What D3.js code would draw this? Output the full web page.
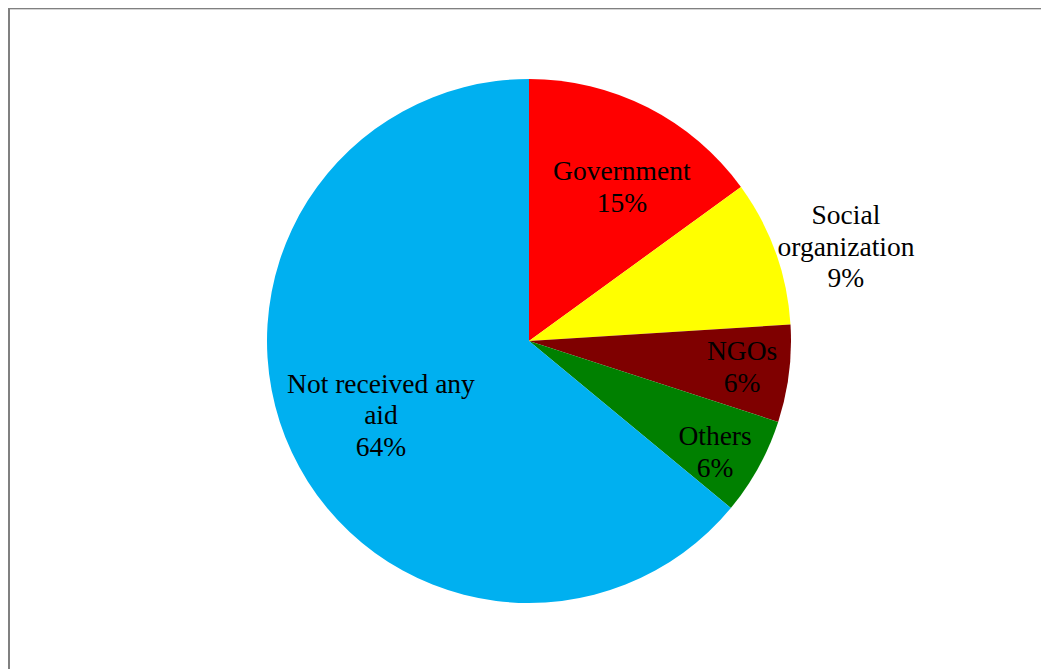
<!DOCTYPE html>
<html>
<head>
<meta charset="utf-8">
<script src="https://cdn.jsdelivr.net/npm/d3@7"></script>
<style>
  html, body { margin: 0; padding: 0; background: #fff; }
  svg { display: block; }
</style>
</head>
<body>
<svg id="chart" width="1041" height="669"></svg>
<script>
// Sources of aid received (percent of respondents)
const categories = ["Government", "Social organization", "NGOs", "Others", "Not received any aid"];
const shares = [15, 9, 6, 6, 64];
const sliceColors = ["#FF0000", "#FFFF00", "#7F0000", "#008000", "#00B0F0"];
// How each category name breaks across lines inside its label
const labelLines = [["Government"], ["Social", "organization"], ["NGOs"], ["Others"], ["Not received any", "aid"]];
// Label anchors in polar form: angle clockwise from 12 o'clock, and distance as a fraction of the radius
const labelAngle = [31.0, 73.3, 96.8, 120.7, 243.6];
const labelRadius = [0.688, 1.263, 0.819, 0.826, 0.631];

const svg = d3.select("#chart");
const W = 1041, H = 669;

// chart frame (its right and bottom edges fall outside the page)
svg.append("line").attr("x1", 9).attr("x2", W + 2).attr("y1", 9.5).attr("y2", 9.5)
  .attr("stroke", "#d4d4d4").attr("stroke-width", 1);
svg.append("line").attr("x1", 8).attr("x2", W + 2).attr("y1", 8.5).attr("y2", 8.5)
  .attr("stroke", "#808080").attr("stroke-width", 1.2);
svg.append("line").attr("x1", 9).attr("x2", 9).attr("y1", 8).attr("y2", H + 2)
  .attr("stroke", "#808080").attr("stroke-width", 2);

const cx = 529, cy = 341, R = 262;
const g = svg.append("g").attr("transform", `translate(${cx},${cy})`);

const data = categories.map((c, i) => ({ name: c, value: shares[i], i }));
const pie = d3.pie().sort(null).value(d => d.value).startAngle(0).endAngle(2 * Math.PI);
const arcs = pie(data);
const arc = d3.arc().innerRadius(0).outerRadius(R);

g.selectAll("path.slice").data(arcs).join("path")
  .attr("class", "slice")
  .attr("d", arc)
  .attr("fill", d => sliceColors[d.data.i]);

const fontSize = 27.5, lineH = 31.5;
arcs.forEach(d => {
  const i = d.data.i;
  const a = labelAngle[i] * Math.PI / 180;
  const r = R * labelRadius[i];
  const lx = r * Math.sin(a), ly = -r * Math.cos(a);
  const lines = labelLines[i].concat([d3.format(".0f")(d.data.value) + "%"]);
  const t = g.append("text")
    .attr("text-anchor", "middle")
    .attr("font-family", "'Liberation Serif', 'Times New Roman', serif")
    .attr("font-size", fontSize)
    .attr("fill", "#000");
  lines.forEach((s, k) => {
    t.append("tspan")
      .attr("x", lx)
      .attr("y", ly + (k - (lines.length - 1) / 2) * lineH)
      .attr("dy", "0.35em")
      .text(s);
  });
});
</script>
</body>
</html>
